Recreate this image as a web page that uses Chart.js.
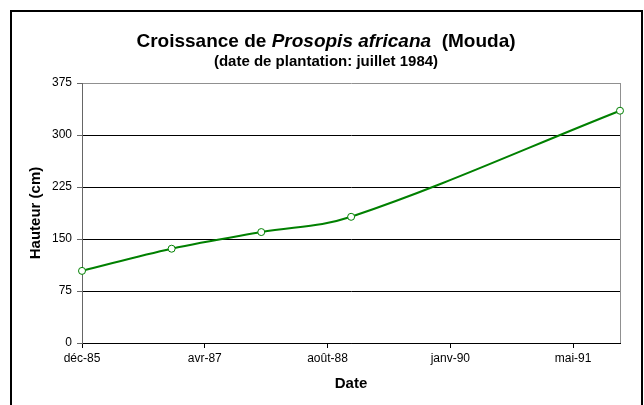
<!DOCTYPE html>
<html>
<head>
<meta charset="utf-8">
<script src="https://cdn.jsdelivr.net/npm/chart.js@4.4.0/dist/chart.umd.min.js"></script>
<style>
  html, body { margin: 0; padding: 0; background: #fff; }
</style>
</head>
<body>
<canvas id="growthChart" width="644" height="405"></canvas>
<script>
// Mesures de hauteur (cm) de Prosopis africana à Mouda
const measureDates = ["1985-12-01", "1986-12-01", "1987-12-01", "1988-12-01", "1991-12-01"];
const heights = [104, 136, 160, 182, 335];
const tickLabels = ["déc-85", "avr-87", "août-88", "janv-90", "mai-91"];
const tickStepDays = 500;
const yTicks = [0, 75, 150, 225, 300, 375];

const FONT = "Arial, 'Liberation Sans', sans-serif";
const DAY = 86400000;
const origin = Date.parse(measureDates[0]);
const toDays = s => Math.round((Date.parse(s) - origin) / DAY);
const points = measureDates.map((d, i) => ({ x: toDays(d), y: heights[i] }));
const tickDays = tickLabels.map((_, i) => i * tickStepDays);

// cadre, bordure de la zone de tracé et titre (nom d'espèce en italique)
const decorPlugin = {
  id: 'decor',
  beforeDatasetsDraw(chart) {
    const { ctx, chartArea: a } = chart;
    ctx.save();
    ctx.strokeStyle = '#909090';
    ctx.lineWidth = 1;
    ctx.beginPath();
    ctx.moveTo(a.right + 0.5, a.top);
    ctx.lineTo(a.right + 0.5, a.bottom);
    ctx.stroke();
    ctx.restore();
  },
  afterDraw(chart) {
    const ctx = chart.ctx;
    ctx.save();
    ctx.strokeStyle = '#000';
    ctx.lineWidth = 2;
    ctx.beginPath();
    ctx.moveTo(11, 405);
    ctx.lineTo(11, 11);
    ctx.lineTo(642, 11);
    ctx.lineTo(642, 405);
    ctx.stroke();

    const parts = [
      ["bold 19px " + FONT, "Croissance de "],
      ["italic bold 19px " + FONT, "Prosopis africana"],
      ["bold 19px " + FONT, "  (Mouda)"]
    ];
    let total = 0;
    parts.forEach(p => { ctx.font = p[0]; total += ctx.measureText(p[1]).width; });
    let x = 326 - total / 2;
    ctx.fillStyle = '#000';
    ctx.textBaseline = 'middle';
    ctx.textAlign = 'left';
    parts.forEach(p => { ctx.font = p[0]; ctx.fillText(p[1], x, 42); x += ctx.measureText(p[1]).width; });

    ctx.font = "bold 15px " + FONT;
    ctx.textAlign = 'center';
    ctx.fillText("(date de plantation: juillet 1984)", 326, 62);
    ctx.restore();
  }
};

const ctx = document.getElementById("growthChart").getContext("2d");
new Chart(ctx, {
  type: "line",
  data: {
    datasets: [{
      data: points,
      borderColor: "#008000",
      borderWidth: 2,
      tension: 0.35,
      pointRadius: 3.5,
      pointBackgroundColor: "#ffffff",
      pointBorderColor: "#008000",
      pointBorderWidth: 1,
      clip: false
    }]
  },
  options: {
    responsive: false,
    animation: false,
    layout: { padding: { top: 83, right: 24, left: 0, bottom: 0 } },
    plugins: {
      legend: { display: false },
      tooltip: { enabled: false }
    },
    scales: {
      x: {
        type: "linear",
        min: 0,
        max: points[points.length - 1].x,
        afterBuildTicks: axis => { axis.ticks = tickDays.map(v => ({ value: v })); },
        afterFit: axis => { axis.height = 62; },
        grid: { drawOnChartArea: false, drawTicks: true, tickLength: 5, tickColor: "#000" },
        border: { color: "#000", width: 1 },
        ticks: {
          color: "#000",
          font: { family: FONT, size: 12 },
          padding: 3,
          maxRotation: 0,
          autoSkip: false,
          callback: (v, i) => tickLabels[i]
        },
        title: {
          display: true,
          text: "Date",
          color: "#000",
          font: { family: FONT, size: 15, weight: "bold" },
          padding: { top: 0, bottom: 12 }
        }
      },
      y: {
        min: 0,
        max: 375,
        afterBuildTicks: axis => { axis.ticks = yTicks.map(v => ({ value: v })); },
        afterFit: axis => { axis.width = 82; },
        grid: {
          color: c => (c.tick && c.tick.value === 375 ? "#909090" : "#000"),
          tickColor: "#666",
          tickLength: 5
        },
        border: { color: "#666", width: 1 },
        ticks: {
          color: "#000",
          font: { family: FONT, size: 12 },
          padding: 5
        },
        title: {
          display: true,
          text: "Hauteur (cm)",
          color: "#000",
          font: { family: FONT, size: 15, weight: "bold" },
          padding: { top: 27, bottom: 0 }
        }
      }
    }
  },
  plugins: [decorPlugin]
});
</script>
</body>
</html>
